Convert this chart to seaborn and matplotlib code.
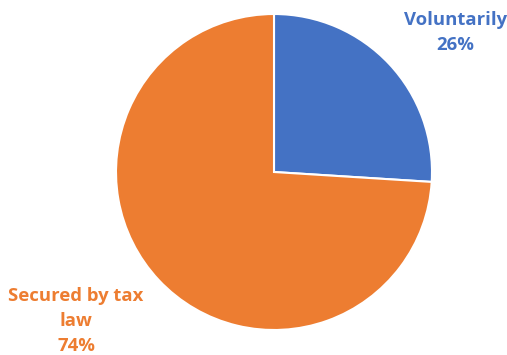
import matplotlib
matplotlib.use("Agg")
from matplotlib import pyplot as plt
import seaborn as sns

categories = ["Voluntarily", "Secured by tax\nlaw"]
shares = [26, 74]
colors = ["#4472C4", "#ED7D31"]

sns.set_style("white")
plt.rcParams['font.family'] = ['Open Sans', 'DejaVu Sans']

fig = plt.figure(figsize=(5.07, 3.55), dpi=100)
ax = fig.add_axes([116 / 507, 25 / 355, 316 / 507, 316 / 355])

ax.pie(shares, colors=colors, startangle=90, counterclock=False,
       wedgeprops={'edgecolor': 'white', 'linewidth': 1.5})
ax.set_xlim(-1, 1)
ax.set_ylim(-1, 1)
ax.set_aspect('equal')
ax.axis('off')

# label positions in pie radius units
label_pos = [(1.146, 0.883), (-1.253, -0.946)]
for cat, val, col, (x, y) in zip(categories, shares, colors, label_pos):
    ax.text(x, y, f"{cat}\n{val}%", color=col, ha='center', va='center',
            fontsize=13.3, fontweight='bold', linespacing=1.5, clip_on=False)

fig.savefig("out.png", dpi=100)
